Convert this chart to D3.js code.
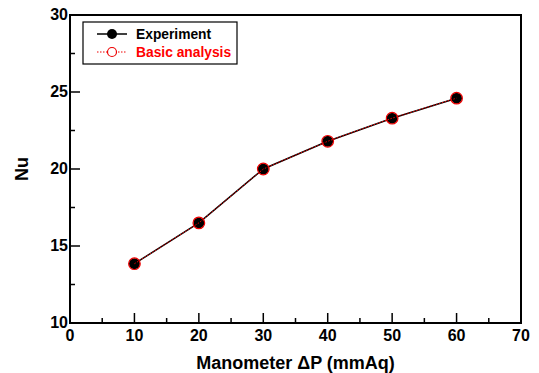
<!DOCTYPE html>
<html>
<head>
<meta charset="utf-8">
<script src="https://cdn.jsdelivr.net/npm/d3@7"></script>
<style>
  body { margin: 0; background: #fff; }
  text { font-family: "Liberation Sans", Arial, sans-serif; font-weight: bold; }
</style>
</head>
<body>
<div id="chart"></div>
<script>
const pressure = [10, 20, 30, 40, 50, 60];
const experiment = [13.85, 16.5, 20.0, 21.8, 23.3, 24.6];
const basic = [13.85, 16.5, 20.0, 21.8, 23.3, 24.6];
const xTicks = [0, 10, 20, 30, 40, 50, 60, 70];
const yTicks = [10, 15, 20, 25, 30];

const width = 539, height = 373;
const margin = { top: 15, right: 18, bottom: 50, left: 70 };

const svg = d3.select("#chart").append("svg")
  .attr("width", width).attr("height", height);

const x = d3.scaleLinear().domain([0, 70]).range([margin.left, width - margin.right]);
const y = d3.scaleLinear().domain([10, 30]).range([height - margin.bottom, margin.top]);

// frame
svg.append("rect")
  .attr("x", x(0)).attr("y", y(30))
  .attr("width", x(70) - x(0)).attr("height", y(10) - y(30))
  .attr("fill", "none").attr("stroke", "#000").attr("stroke-width", 2);

// x axis: inside ticks
const gx = svg.append("g");
gx.selectAll(".major").data(xTicks.slice(1, -1)).join("line")
  .attr("x1", d => x(d)).attr("x2", d => x(d))
  .attr("y1", y(10)).attr("y2", y(10) - 10)
  .attr("stroke", "#000").attr("stroke-width", 1.5);
gx.selectAll(".minor").data(d3.range(5, 70, 10)).join("line")
  .attr("x1", d => x(d)).attr("x2", d => x(d))
  .attr("y1", y(10)).attr("y2", y(10) - 5)
  .attr("stroke", "#000").attr("stroke-width", 1.5);
gx.selectAll("text").data(xTicks).join("text")
  .attr("x", d => x(d)).attr("y", y(10) + 18)
  .attr("text-anchor", "middle").attr("font-size", 16)
  .text(d => d);

// y axis: inside ticks
const gy = svg.append("g");
gy.selectAll(".major").data(yTicks.slice(1, -1)).join("line")
  .attr("x1", x(0)).attr("x2", x(0) + 10)
  .attr("y1", d => y(d)).attr("y2", d => y(d))
  .attr("stroke", "#000").attr("stroke-width", 1.5);
gy.selectAll(".minor").data([12.5, 17.5, 22.5, 27.5]).join("line")
  .attr("x1", x(0)).attr("x2", x(0) + 5)
  .attr("y1", d => y(d)).attr("y2", d => y(d))
  .attr("stroke", "#000").attr("stroke-width", 1.5);
gy.selectAll("text").data(yTicks).join("text")
  .attr("x", x(0) - 2).attr("y", d => y(d) + 5)
  .attr("text-anchor", "end").attr("font-size", 16)
  .text(d => d);

// axis titles
svg.append("text")
  .attr("x", (x(0) + x(70)) / 2).attr("y", 369)
  .attr("text-anchor", "middle").attr("font-size", 18)
  .text("Manometer ΔP (mmAq)");
svg.append("text")
  .attr("transform", `translate(28,${(y(10) + y(30)) / 2}) rotate(-90)`)
  .attr("text-anchor", "middle").attr("font-size", 18)
  .text("Nu");

const line = d3.line().x((d, i) => x(pressure[i])).y(d => y(d));

// experiment series
svg.append("path").datum(experiment)
  .attr("d", line).attr("fill", "none")
  .attr("stroke", "#000").attr("stroke-width", 1.5);
svg.selectAll(".exp").data(experiment).join("circle")
  .attr("cx", (d, i) => x(pressure[i])).attr("cy", d => y(d))
  .attr("r", 5.5).attr("fill", "#000");

// basic analysis series
svg.append("path").datum(basic)
  .attr("d", line).attr("fill", "none")
  .attr("stroke", "#e00").attr("stroke-width", 1)
  .attr("stroke-dasharray", "1.5,1.5");
svg.selectAll(".basic").data(basic).join("circle")
  .attr("cx", (d, i) => x(pressure[i])).attr("cy", d => y(d))
  .attr("r", 5.8).attr("fill", "none")
  .attr("stroke", "#e00").attr("stroke-width", 1.2);

// legend
const lg = svg.append("g");
lg.append("rect")
  .attr("x", 83).attr("y", 22).attr("width", 154).attr("height", 42)
  .attr("fill", "#fff").attr("stroke", "#000").attr("stroke-width", 1.2);
lg.append("line")
  .attr("x1", 97).attr("x2", 127).attr("y1", 34).attr("y2", 34)
  .attr("stroke", "#000").attr("stroke-width", 1.5);
lg.append("circle").attr("cx", 112).attr("cy", 34).attr("r", 5).attr("fill", "#000");
lg.append("text").attr("x", 136).attr("y", 39).attr("font-size", 13.8)
  .attr("fill", "#000").text("Experiment");
lg.append("line")
  .attr("x1", 97).attr("x2", 127).attr("y1", 52).attr("y2", 52)
  .attr("stroke", "#e00").attr("stroke-width", 1).attr("stroke-dasharray", "1.5,1.5");
lg.append("circle").attr("cx", 112).attr("cy", 52).attr("r", 4.5)
  .attr("fill", "#fff").attr("stroke", "#e00").attr("stroke-width", 1.2);
lg.append("text").attr("x", 136).attr("y", 57).attr("font-size", 13.8)
  .attr("fill", "#f00").text("Basic analysis");
</script>
</body>
</html>
